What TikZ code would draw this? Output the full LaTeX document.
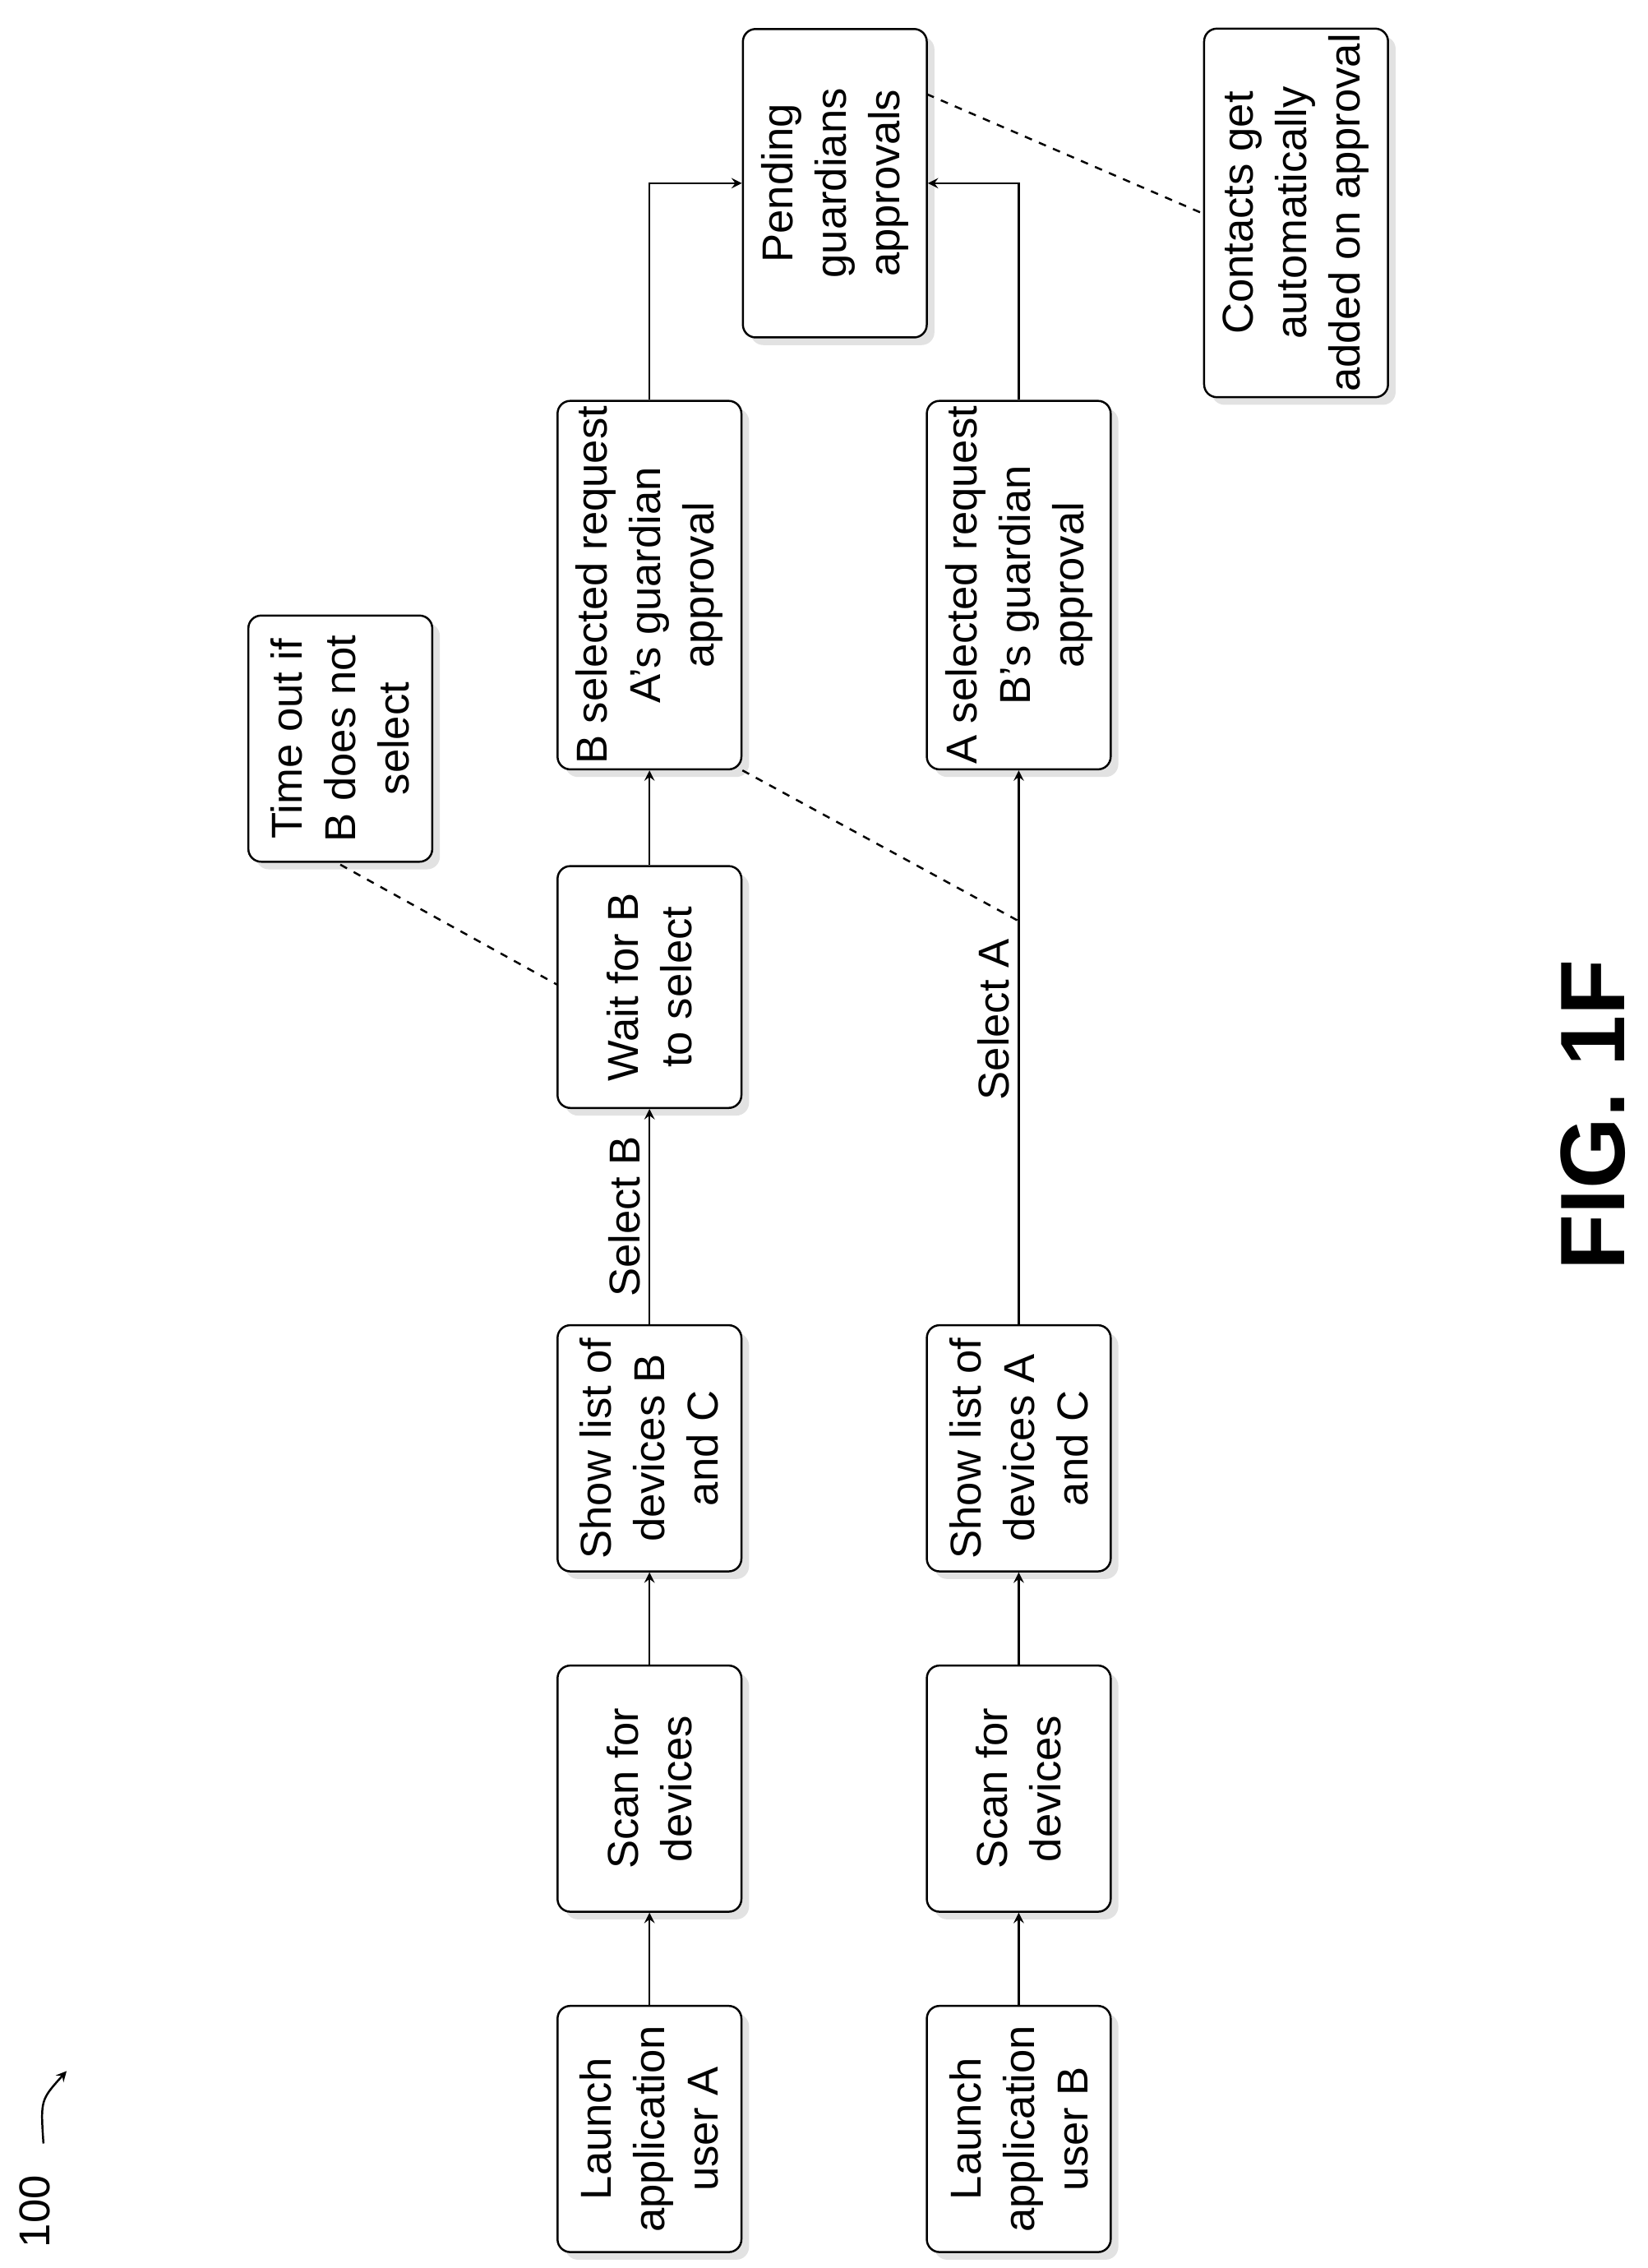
\documentclass[tikz,border=0pt]{standalone}
\usepackage{fontspec}
\setmainfont{Liberation Sans}
\usetikzlibrary{shadows}
\begin{document}
\begin{tikzpicture}[x=0.02cm,y=-0.02cm,
  box/.style={draw,thick,rounded corners=5pt,fill=white,rotate=90,align=center,
    font=\fontsize{17}{21}\selectfont,inner sep=2pt,
    drop shadow={shadow xshift=3pt,shadow yshift=-3pt,fill=gray!45},
    minimum height=2.54cm},
  arr/.style={->,thick,>=stealth},
  link/.style={thick,dashed}]
\useasboundingbox (0,0) rectangle (1138,1566);
% user A
\node[box,minimum width=3.4cm] (launchA) at (448.5,1470) {Launch\\application\\user A};
\node[box,minimum width=3.4cm] (scanA) at (448.5,1235) {Scan for\\devices};
\node[box,minimum width=3.4cm] (listA) at (448.5,1000) {Show list of\\devices B\\and C};
\node[box,minimum width=3.34cm] (wait) at (448.5,681.5) {Wait for B\\to select};
\node[box,minimum width=5.04cm] (bsel) at (448.5,404) {B selected request\\A's guardian\\approval};
\node[box,minimum width=3.4cm] (timeout) at (235,510) {Time out if\\B does not\\select};
% user B
\node[box,minimum width=3.4cm] (launchB) at (703.5,1470) {Launch\\application\\user B};
\node[box,minimum width=3.4cm] (scanB) at (703.5,1235) {Scan for\\devices};
\node[box,minimum width=3.4cm] (listB) at (703.5,1000) {Show list of\\devices A\\and C};
\node[box,minimum width=5.04cm] (asel) at (703.5,404) {A selected request\\B's guardian\\approval};
% approvals
\node[box,minimum width=4.26cm] (pending) at (576.5,126.5) {Pending\\guardians\\approvals};
\node[box,minimum width=5cm] (contacts) at (895,147) {Contacts get\\automatically\\added on approval};
% arrows
\draw[arr] (launchA) -- (scanA);
\draw[arr] (scanA) -- (listA);
\draw[arr] (listA) -- node[rotate=90,anchor=south,font=\fontsize{17}{21}\selectfont]{Select B} (wait);
\draw[arr] (wait) -- (bsel);
\draw[arr] (launchB) -- (scanB);
\draw[arr] (scanB) -- (listB);
\draw[arr] (listB) -- node[pos=0.55,rotate=90,anchor=south,font=\fontsize{17}{21}\selectfont]{Select A} (asel);
\draw[arr] (bsel) |- (pending);
\draw[arr] (asel) |- (pending);
% dashed links
\coordinate (selA) at (703.5,636);
\coordinate (tout) at (235,597);
\coordinate (waitc) at (385,680);
\draw[link] (tout) -- (waitc);
\draw[link] (bsel.south west) -- (selA);
\coordinate (pendc) at (640,65);
\coordinate (contc) at (832,148);
\draw[link] (pendc) -- (contc);
% labels
\node[rotate=90,font=\bfseries\fontsize{36}{40}\selectfont] (fig) at (1100,770) {FIG. 1F};
\node[rotate=90,font=\fontsize{17}{21}\selectfont] (num) at (24,1527) {100};
\draw[->,thick,>=stealth] (30,1480) .. controls (28,1450) .. (46,1430);
\end{tikzpicture}
\end{document}
